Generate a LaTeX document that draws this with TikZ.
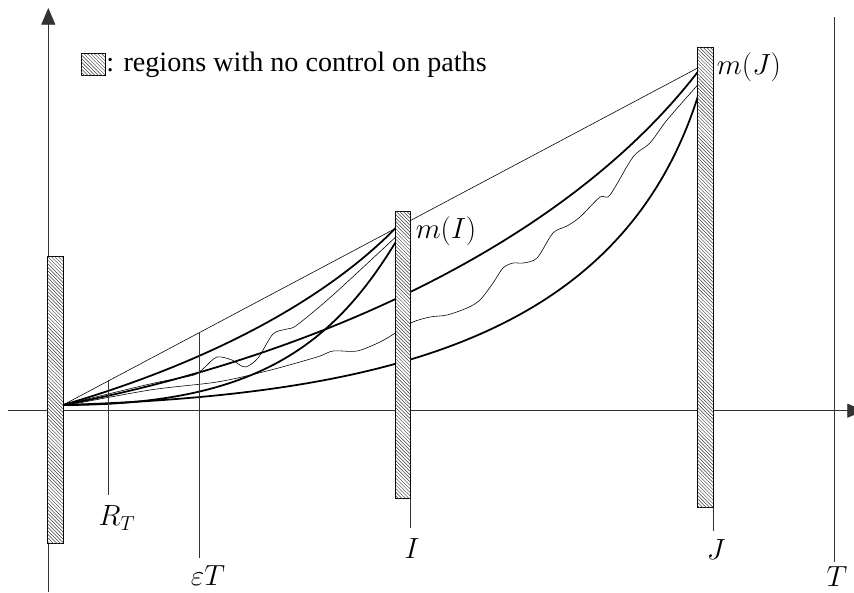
\documentclass[tikz,border=0pt]{standalone}
\usepackage{fontspec}
\setmainfont{Liberation Serif}
\usetikzlibrary{arrows.meta,patterns}
\tikzset{
  zone/.style={draw,line width=0.6pt,fill=white,postaction={pattern=north west lines,pattern color=black!75}},
  path thin/.style={line width=0.5pt},
  path bold/.style={line width=1.5pt},
  tick/.style={line width=0.6pt,black!80},
  lab/.style={font=\fontsize{25}{30}\selectfont,inner sep=1pt}
}
\begin{document}
\begin{tikzpicture}[x=0.3mm,y=-0.3mm,>={Triangle[length=5mm,width=4.2mm]}]
\useasboundingbox (0,0) rectangle (854,592);
% axes
\draw[->,line width=0.6pt,black!80] (8,410.7) -- (864,410.7);
\draw[->,line width=0.6pt,black!80] (48.3,592) -- (48.3,8);
% end points of the paths
\coordinate (O) at (63,405);
\coordinate (mI) at (395.7,228);
\coordinate (mJ) at (697.7,68);
% paths to m(I)
\draw[path thin] (O) -- (mJ);
\draw[path bold] (O) .. controls (200,365) and (320,305) .. (mI);
\draw[path thin] plot[smooth,tension=0.5] coordinates {(63,405) (150,384) (190,376) (198,373) (205,367) (217,357) (232,360) (245,367) (258,358) (273,334) (287,329) (297,325) (333,295) (395.7,237)};
\draw[path bold] (O) .. controls (250,405) and (330,350) .. (395.7,242);
% paths to m(J)
\draw[path bold] (O) .. controls (300,360) and (560,250) .. (697.7,72);
\draw[path thin] plot[smooth,tension=0.5] coordinates {(63,406) (150,390) (217,382) (267,371) (317,357) (333,351) (357,351) (380,342) (397,332) (413,322) (430,317) (447,315) (467,308) (480,300) (493,283) (503,268) (513,263) (523,263) (537,258) (553,233) (567,226) (580,217) (600,197) (610,195) (633,157) (650,143) (667,120) (697.7,85)};
\draw[path bold] (O) .. controls (380,395) and (620,340) .. (697.7,97);
% ticks on the time axis
\draw[tick] (108,380) -- (108,495);
\draw[tick] (199,332) -- (199,558);
\draw[tick] (410.7,498) -- (410.7,528);
\draw[tick] (713.3,507) -- (713.3,531);
\draw[tick] (834,17) -- (834,562);
\node[lab] (rt) at (117,518) {$R_T$};
\node[lab] (et) at (208,576) {$\varepsilon T$};
\node[lab] (ti) at (412,549) {$I$};
\node[lab] (tj) at (716,550) {$J$};
\node[lab] (tt) at (837,577) {$T$};
% regions with no control
\draw[zone] (47.3,256) rectangle (63,543);
\draw[zone] (395.7,211) rectangle (410.7,498);
\draw[zone] (697.7,47.3) rectangle (713.3,507.7);
\node[lab] (mil) at (446,231) {$m(I)$};
\node[lab] (mjl) at (749,67) {$m(J)$};
% legend
\draw[zone] (81,53) rectangle (105,75);
\node[anchor=west,inner sep=1pt,font=\fontsize{24}{28}\selectfont] (leg) at (105,65) {: regions with no control on paths};
\end{tikzpicture}
\end{document}
